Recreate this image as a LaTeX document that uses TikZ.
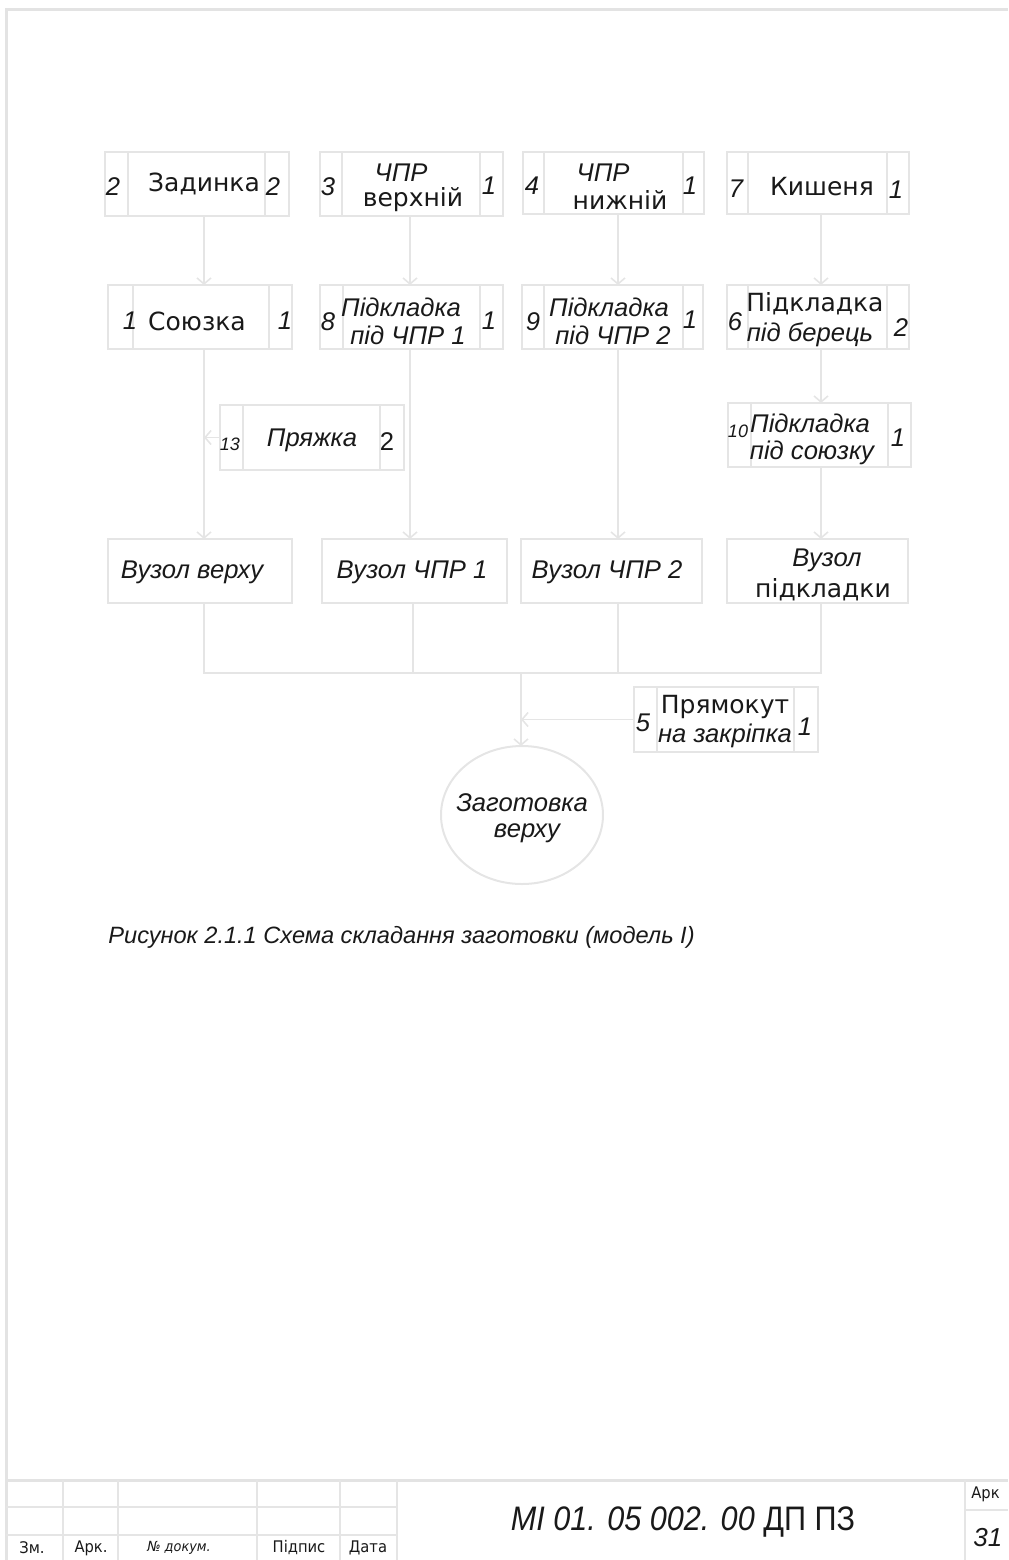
\documentclass[tikz,border=0pt]{standalone}
\usepackage{fontspec}
\setmainfont{Liberation Sans}
\newfontfamily\dvs{DejaVu Sans}
\newfontfamily\narrowsans[FakeStretch=0.9]{Liberation Sans}
\newfontfamily\narrowdvs[FakeStretch=0.92]{DejaVu Sans}
\usetikzlibrary{arrows.meta,shapes.geometric,fit,calc}

\tikzset{
  ln/.style={draw=gray!20, line width=1pt},
  box/.style={ln, rectangle, inner sep=0pt, outer sep=0pt},
  conn/.style={draw=gray!20, line width=0.8pt},
  arr/.style={conn, -{Straight Barb[length=3pt,width=7pt]}},
  frame/.style={draw=gray!22, line width=1.5pt},
  grid/.style={draw=gray!20, line width=1.1pt},
  lbl/.style={inner sep=0pt, text=black!90},
  it/.style={lbl, font=\fontsize{12.8}{14}\selectfont\itshape},
  up/.style={lbl, font=\dvs\fontsize{12.5}{14}\selectfont},
  small/.style={lbl, font=\fontsize{9}{10}\selectfont\itshape},
  tb/.style={lbl, font=\narrowdvs\fontsize{8}{9}\selectfont},
}

% part box: name, x1, y1, x2, y2, left divider, right divider
\newcommand\partbox[7]{%
  \node[box, fit={(#2,#3) (#4,#5)}] (#1) {};
  \draw[ln] (#6,#3) -- (#6,#5) (#7,#3) -- (#7,#5);
}

\begin{document}
\begin{tikzpicture}[x=0.5pt,y=-0.5pt]
\useasboundingbox (0,0) rectangle (1008,1560);

% sheet frame
\draw[frame] (6,1560) -- (6,9) -- (1008,9);

% ---- row 1
\partbox{zad}{105}{152}{289}{216}{128}{265}
\node[it] (zadL) at (113,187) {2};
\node[up] (zadT) at (204,184) {Задинка};
\node[it] (zadR) at (273,187) {2};

\partbox{cpv}{320}{152}{503}{216}{342}{480}
\node[it] (cpvL) at (328,187) {3};
\node[it] (cpvT1) at (401,173) {ЧПР};
\node[up] (cpvT2) at (413,200) {верхній};
\node[it] (cpvR) at (489,186) {1};

\partbox{cpn}{523}{152}{704}{214}{544}{683}
\node[it] (cpnL) at (532,186) {4};
\node[it] (cpnT1) at (603,173) {ЧПР};
\node[up] (cpnT2) at (620,200) {нижній};
\node[it] (cpnR) at (690,186) {1};

\partbox{kish}{727}{152}{909}{214}{748}{887}
\node[it] (kishL) at (736,189) {7};
\node[up] (kishT) at (822,187) {Кишеня};
\node[it] (kishR) at (896,190) {1};

% ---- row 2
\partbox{soy}{108}{285}{292}{349}{133}{269}
\node[it] (soyL) at (130,321) {1};
\node[up] (soyT) at (197,321) {Союзка};
\node[it] (soyR) at (285,321) {1};

\partbox{pch1}{320}{285}{503}{349}{343}{480}
\node[it] (pch1L) at (328,322) {8};
\node[it] (pch1T1) at (401,307) {Підкладка};
\node[it] (pch1T2) at (408,335) {під ЧПР 1};
\node[it] (pch1R) at (489,321) {1};

\partbox{pch2}{522}{285}{703}{349}{544}{683}
\node[it] (pch2L) at (533,322) {9};
\node[it] (pch2T1) at (609,307) {Підкладка};
\node[it] (pch2T2) at (613,335) {під ЧПР 2};
\node[it] (pch2R) at (690,320) {1};

\partbox{pber}{727}{285}{909}{349}{748}{887}
\node[it] (pberL) at (735,322) {6};
\node[up] (pberT1) at (815,304) {Підкладка};
\node[it] (pberT2) at (810,335) {під берець};
\node[it] (pberR) at (901,328) {2};

% ---- row 3
\partbox{pr}{220}{405}{404}{470}{243}{380}
\node[small] (prL) at (230,444) {13};
\node[it] (prT) at (312,440) {Пряжка};
\node[lbl, font=\fontsize{12.8}{14}\selectfont] (prR) at (387,442) {2};

\partbox{psoy}{728}{403}{911}{467}{751}{888}
\node[small] (psoyL) at (738,431) {10};
\node[it] (psoyT1) at (810,423) {Підкладка};
\node[it] (psoyT2) at (812,453) {під союзку};
\node[it] (psoyR) at (898,438) {1};

% ---- row 4: sub-assemblies
\node[box, fit={(108,539) (292,603)}] (vv) {};
\node[it] (vvT) at (192,572) {Вузол верху};
\node[box, fit={(322,539) (507,603)}] (vc1) {};
\node[it] (vc1T) at (412,572) {Вузол ЧПР 1};
\node[box, fit={(521,539) (702,603)}] (vc2) {};
\node[it] (vc2T) at (607,572) {Вузол ЧПР 2};
\node[box, fit={(727,539) (908,603)}] (vpid) {};
\node[it] (vpidT1) at (827,560) {Вузол};
\node[up] (vpidT2) at (823,590) {підкладки};

% ---- extra part and final assembly
\partbox{prm}{634}{687}{818}{752}{657}{794}
\node[it] (prmL) at (643,723) {5};
\node[up] (prmT1) at (725,707) {Прямокут};
\node[it] (prmT2) at (725,736) {на закріпка};
\node[it] (prmR) at (805,727) {1};

\node[ellipse, ln, minimum width=81pt, minimum height=69pt, inner sep=0pt, outer sep=0pt] (zag) at (522,815) {};
\node[it] (zagT1) at (522,803) {Заготовка};
\node[it] (zagT2) at (527,833) {верху};

% ---- connectors
\coordinate (cA) at (204,0);
\coordinate (cB) at (410,0);
\coordinate (cB2) at (413,0);
\coordinate (cC) at (618,0);
\coordinate (cD) at (821,0);
\coordinate (cM) at (521,0);
\coordinate (bus) at (0,673);

\draw[arr] (zad.south -| cA) -- (soy.north -| cA);
\draw[arr] (soy.south -| cA) -- (vv.north -| cA);
\draw[arr] (pr.west) -- (pr.west -| cA);
\draw[arr] (cpv.south -| cB) -- (pch1.north -| cB);
\draw[arr] (pch1.south -| cB) -- (vc1.north -| cB);
\draw[arr] (cpn.south -| cC) -- (pch2.north -| cC);
\draw[arr] (pch2.south -| cC) -- (vc2.north -| cC);
\draw[arr] (kish.south -| cD) -- (pber.north -| cD);
\draw[arr] (pber.south -| cD) -- (psoy.north -| cD);
\draw[arr] (psoy.south -| cD) -- (vpid.north -| cD);

\draw[conn] (vv.south -| cA) -- (bus -| cA) -- (bus -| cD) -- (vpid.south -| cD);
\draw[conn] (vc1.south -| cB2) -- (bus -| cB2);
\draw[conn] (vc2.south -| cC) -- (bus -| cC);
\draw[arr] (bus -| cM) -- (zag.north -| cM);
\draw[arr] (prm.west) -- (prm.west -| cM);

% ---- caption
\node[lbl, anchor=west, font=\fontsize{11.8}{14}\selectfont\itshape] (cap) at (108,937) {Рисунок 2.1.1 Схема складання заготовки (модель І)};

% ---- title block
\draw[frame] (6,1480) -- (1008,1480);
\foreach \xx in {63,118,257,340,397,965} \draw[grid] (\xx,1480) -- (\xx,1560);
\draw[grid] (6,1507) -- (397,1507) (6,1535) -- (397,1535);
\draw[grid] (965,1510) -- (1008,1510);
\node[tb] (tZm) at (32,1548) {Зм.};
\node[tb] (tArk) at (91,1548) {Арк.};
\node[tb, font=\narrowdvs\fontsize{7}{9}\selectfont\itshape] (tDoc) at (179,1548) {№ докум.};
\node[tb] (tSig) at (299,1548) {Підпис};
\node[tb] (tDate) at (368,1548) {Дата};
\node[lbl, font=\narrowsans\fontsize{17}{19}\selectfont] (tCode) at (683,1522) {\textit{МІ 01. 05 002. 00} ДП ПЗ};
\node[tb, anchor=west] (tSheet) at (971,1494) {Арк};
\node[lbl, anchor=west, font=\fontsize{13}{15}\selectfont\itshape] (tNum) at (973,1538) {31};
\end{tikzpicture}
\end{document}
